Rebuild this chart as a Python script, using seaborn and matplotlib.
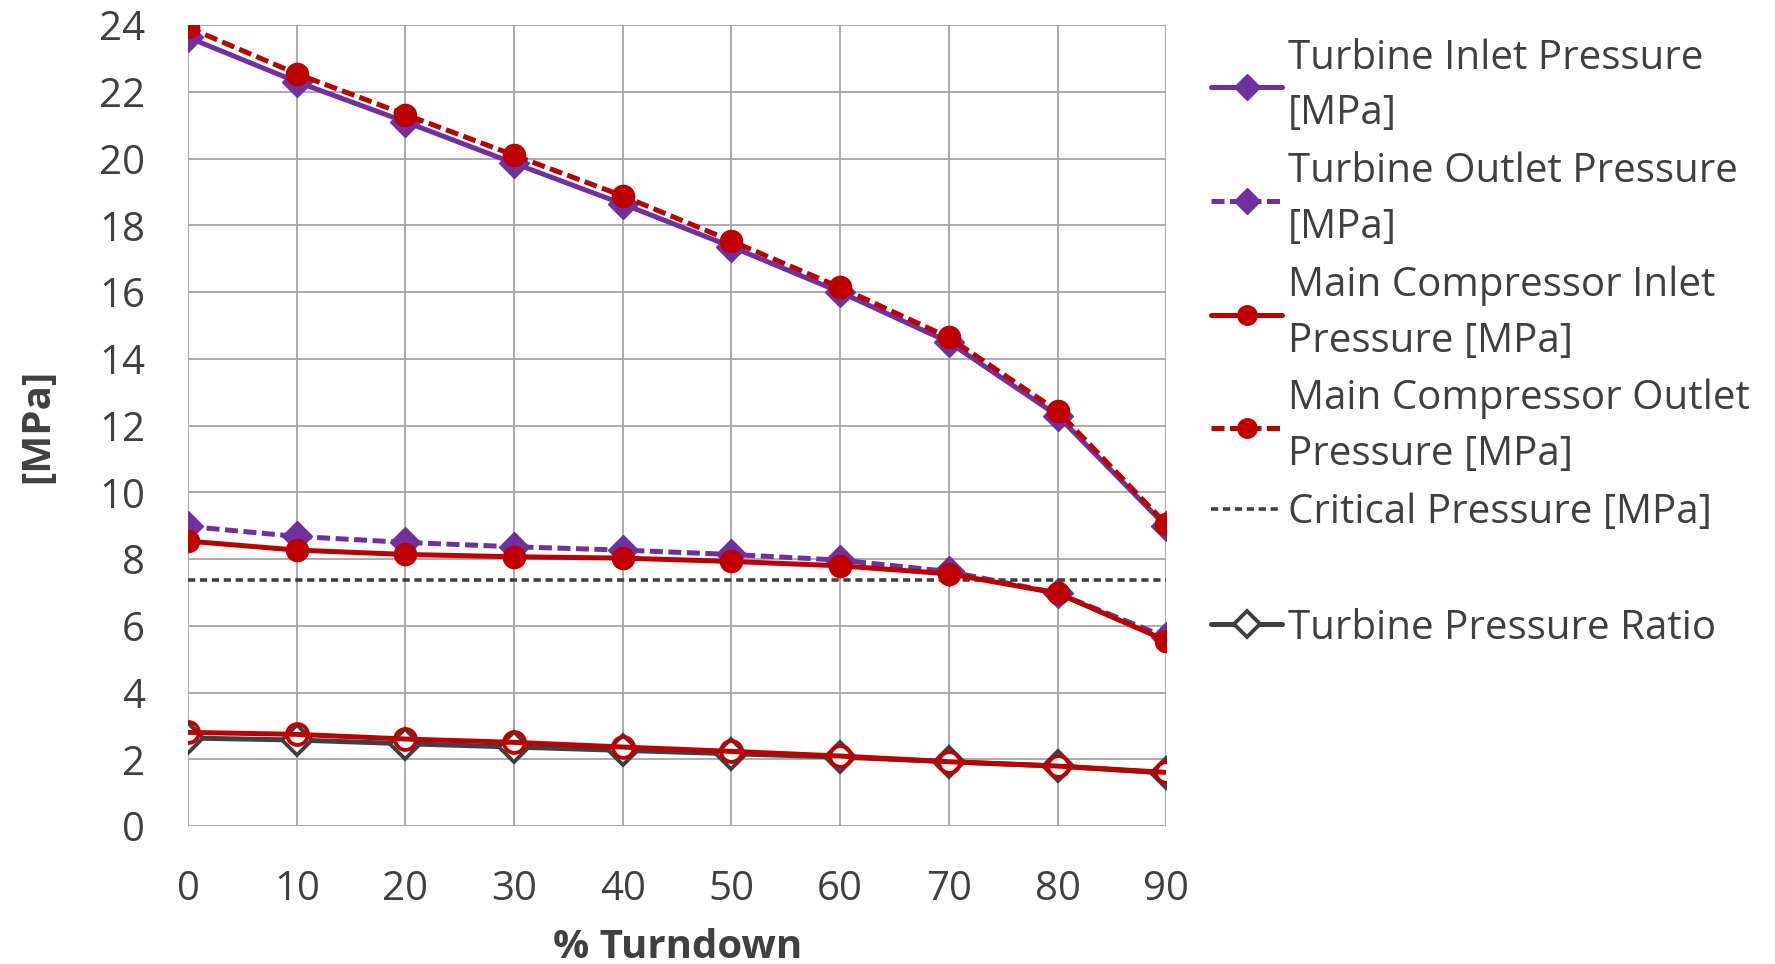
import numpy as np
import pandas as pd
import seaborn as sns
import matplotlib.pyplot as plt
from matplotlib.lines import Line2D

# Values
turndown = [0, 10, 20, 30, 40, 50, 60, 70, 80, 90]
turbine_inlet = [23.63, 22.30, 21.10, 19.86, 18.64, 17.36, 16.00, 14.50, 12.30, 8.98]
turbine_outlet = [8.98, 8.68, 8.50, 8.37, 8.27, 8.14, 7.97, 7.63, 6.98, 5.66]
comp_inlet = [8.54, 8.27, 8.14, 8.07, 8.03, 7.93, 7.80, 7.56, 6.98, 5.56]
comp_outlet = [23.93, 22.54, 21.32, 20.10, 18.88, 17.53, 16.14, 14.64, 12.44, 9.05]
critical = [7.38] * 10
turbine_ratio = [2.64, 2.58, 2.47, 2.37, 2.27, 2.17, 2.07, 1.93, 1.80, 1.59]
comp_ratio = [2.81, 2.75, 2.61, 2.51, 2.37, 2.24, 2.10, 1.93, 1.80, 1.61]

purple = '#7030A0'
red = '#C00000'
dark = '#404040'

sns.set_theme(style='white')
plt.rcParams['font.family'] = ['Open Sans', 'DejaVu Sans']

fig = plt.figure(figsize=(17.75, 9.64), dpi=100)
ax = fig.add_axes([0.106, 0.143, 0.551, 0.831])

lw = 3.6
ms = 16
dash = (2.6, 1.1)
# Turbine inlet pressure
sns.lineplot(x=turndown, y=turbine_inlet, ax=ax, color=purple, lw=lw, marker='D',
             markersize=ms - 1, markeredgecolor=purple, markeredgewidth=1, zorder=3)
# Turbine outlet pressure
sns.lineplot(x=turndown, y=turbine_outlet, ax=ax, color=purple, lw=lw, marker='D',
             markersize=ms - 1, markeredgecolor=purple, markeredgewidth=1, zorder=3, dashes=dash)
# Main compressor inlet
sns.lineplot(x=turndown, y=comp_inlet, ax=ax, color=red, lw=lw, marker='o',
             markersize=ms, markeredgecolor=red, markeredgewidth=1, zorder=4)
# Main compressor outlet
sns.lineplot(x=turndown, y=comp_outlet, ax=ax, color=red, lw=lw, marker='o',
             markersize=ms, markeredgecolor=red, markeredgewidth=1, zorder=4, dashes=dash)
# Critical pressure
sns.lineplot(x=turndown, y=critical, ax=ax, color=dark, lw=2.6, zorder=3, dashes=(2, 1.3))
# Turbine pressure ratio
sns.lineplot(x=turndown, y=turbine_ratio, ax=ax, color=dark, lw=lw, marker='D',
             markersize=ms - 1, markerfacecolor='white', markeredgecolor=dark,
             markeredgewidth=2.8, zorder=4)
# Compressor pressure ratio (not in legend)
sns.lineplot(x=turndown, y=comp_ratio, ax=ax, color=red, lw=lw, marker='o',
             markersize=ms - 1, markerfacecolor='none', markeredgecolor=red,
             markeredgewidth=2.8, zorder=5)

ax.set_xlim(0, 90)
ax.set_ylim(0, 24)
ax.set_xticks(turndown)
ax.set_yticks(np.arange(0, 25, 2))
ax.grid(True, color='#a6a6a6', lw=1.3)
ax.set_axisbelow(True)
for s in ax.spines.values():
    s.set_visible(False)
ax.tick_params(axis='both', length=13, width=1.3, color='#a6a6a6', labelsize=29,
               labelcolor=dark, direction='out')
ax.tick_params(axis='y', pad=18)
ax.tick_params(axis='x', pad=18)
ax.set_xlabel('% Turndown', fontsize=29, fontweight='bold', color=dark, labelpad=13)
ax.set_ylabel('[MPa]', fontsize=29, fontweight='bold', color=dark, labelpad=30)

handles = [
    Line2D([], [], color=purple, lw=lw, marker='D', markersize=ms - 3),
    Line2D([], [], color=purple, lw=lw, marker='D', markersize=ms - 3, dashes=dash),
    Line2D([], [], color=red, lw=lw, marker='o', markersize=ms - 2),
    Line2D([], [], color=red, lw=lw, marker='o', markersize=ms - 2, dashes=dash),
    Line2D([], [], color=dark, lw=2.6, dashes=(2, 1.3)),
    Line2D([], [], color='none'),
    Line2D([], [], color=dark, lw=lw, marker='D', markersize=ms - 3,
           markerfacecolor='white', markeredgecolor=dark, markeredgewidth=2.8),
]
labels = [
    'Turbine Inlet Pressure\n[MPa]',
    'Turbine Outlet Pressure\n[MPa]',
    'Main Compressor Inlet\nPressure [MPa]',
    'Main Compressor Outlet\nPressure [MPa]',
    'Critical Pressure [MPa]',
    ' ',
    'Turbine Pressure Ratio',
]
leg = fig.legend(handles, labels, loc='upper left', bbox_to_anchor=(0.662, 0.998),
                 frameon=False, fontsize=29, handlelength=1.75, handletextpad=0.15,
                 labelspacing=0.43, labelcolor=dark)
for t in leg.get_texts():
    t.set_linespacing(1.5)

fig.savefig('out.png', dpi=100)
